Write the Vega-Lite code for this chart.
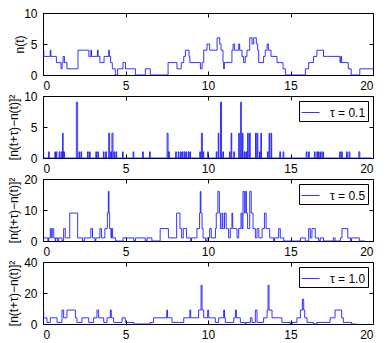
{
  "$schema": "https://vega.github.io/schema/vega-lite/v6.json",
  "padding": {"left": 7, "top": 6, "right": 0, "bottom": 0},
  "config": {
    "font": "Liberation Sans",
    "view": {"stroke": "black", "strokeWidth": 1},
    "axis": {"grid": false, "domain": false, "tickColor": "black", "tickSize": -4, "labelFontSize": 12, "labelColor": "black", "titleFontSize": 12, "titleFontWeight": "normal", "titleColor": "black", "labelPadding": 9},
    "axisY": {"labelPadding": 10},
    "legend": {"strokeColor": "black", "fillColor": "white", "padding": 2, "symbolType": "stroke", "symbolSize": 324, "symbolStrokeWidth": 0.8, "labelFontSize": 12, "labelColor": "black", "orient": "top-right", "offset": 5, "cornerRadius": 0, "labelOffset": 10}
  },
  "datasets": {
    "n": [{"t":0,"v":4},{"t":0.05,"v":3},{"t":0.44,"v":4},{"t":0.48,"v":3},{"t":0.81,"v":2},{"t":1.09,"v":1},{"t":1.16,"v":2},{"t":1.22,"v":3},{"t":1.3,"v":2},{"t":1.45,"v":1},{"t":2.12,"v":4},{"t":2.78,"v":3},{"t":2.9,"v":4},{"t":2.94,"v":3},{"t":3.3,"v":4},{"t":3.34,"v":3},{"t":3.45,"v":2},{"t":3.7,"v":3},{"t":3.98,"v":4},{"t":4.02,"v":3},{"t":4.1,"v":2},{"t":4.2,"v":1},{"t":4.38,"v":0},{"t":4.52,"v":1},{"t":4.85,"v":2},{"t":5.0,"v":1},{"t":5.6,"v":0},{"t":6.2,"v":1},{"t":6.5,"v":0},{"t":7.58,"v":2},{"t":8.12,"v":1},{"t":8.38,"v":2},{"t":8.53,"v":3},{"t":8.63,"v":4},{"t":8.85,"v":3},{"t":8.9,"v":2},{"t":9.54,"v":1},{"t":9.64,"v":2},{"t":9.74,"v":4},{"t":9.94,"v":5},{"t":10.1,"v":4},{"t":10.55,"v":6},{"t":10.71,"v":5},{"t":10.79,"v":4},{"t":10.91,"v":2},{"t":10.95,"v":1},{"t":10.99,"v":2},{"t":11.45,"v":4},{"t":11.52,"v":5},{"t":11.6,"v":4},{"t":11.86,"v":5},{"t":11.92,"v":4},{"t":12.06,"v":3},{"t":12.16,"v":2},{"t":12.26,"v":3},{"t":12.36,"v":4},{"t":12.53,"v":6},{"t":12.67,"v":5},{"t":12.77,"v":6},{"t":12.93,"v":5},{"t":13.01,"v":4},{"t":13.07,"v":2},{"t":13.37,"v":3},{"t":13.47,"v":4},{"t":13.58,"v":5},{"t":13.66,"v":4},{"t":13.82,"v":3},{"t":14.18,"v":2},{"t":14.55,"v":1},{"t":14.69,"v":0},{"t":15.9,"v":1},{"t":16.1,"v":2},{"t":16.4,"v":3},{"t":16.6,"v":4},{"t":17.0,"v":3},{"t":18.0,"v":2},{"t":18.05,"v":3},{"t":18.1,"v":2},{"t":18.5,"v":1},{"t":18.68,"v":0},{"t":19.2,"v":1},{"t":20,"v":1}],
    "d1": [{"t":0,"v":1},{"t":0.04,"v":0},{"t":0.34,"v":1},{"t":0.38,"v":0},{"t":0.72,"v":1},{"t":0.76,"v":0},{"t":0.8,"v":1},{"t":0.84,"v":0},{"t":0.98,"v":1},{"t":1.02,"v":0},{"t":1.1,"v":1},{"t":1.14,"v":0},{"t":1.19,"v":4},{"t":1.22,"v":0},{"t":1.26,"v":1},{"t":1.3,"v":0},{"t":2.02,"v":9},{"t":2.1,"v":0},{"t":2.18,"v":1},{"t":2.22,"v":0},{"t":2.3,"v":1},{"t":2.34,"v":0},{"t":2.7,"v":1},{"t":2.74,"v":0},{"t":2.82,"v":1},{"t":2.86,"v":0},{"t":3.2,"v":1},{"t":3.24,"v":0},{"t":3.32,"v":1},{"t":3.36,"v":0},{"t":3.66,"v":1},{"t":3.7,"v":0},{"t":3.8,"v":1},{"t":3.84,"v":0},{"t":3.98,"v":4},{"t":4.04,"v":0},{"t":4.1,"v":1},{"t":4.14,"v":0},{"t":4.18,"v":4},{"t":4.24,"v":0},{"t":4.3,"v":1},{"t":4.34,"v":0},{"t":4.42,"v":1},{"t":4.46,"v":0},{"t":4.82,"v":1},{"t":4.86,"v":0},{"t":5.46,"v":1},{"t":5.5,"v":0},{"t":6.04,"v":1},{"t":6.08,"v":0},{"t":6.46,"v":1},{"t":6.5,"v":0},{"t":7.52,"v":4},{"t":7.58,"v":0},{"t":7.62,"v":1},{"t":7.66,"v":0},{"t":8.04,"v":1},{"t":8.08,"v":0},{"t":8.2,"v":1},{"t":8.24,"v":0},{"t":8.34,"v":1},{"t":8.38,"v":0},{"t":8.44,"v":1},{"t":8.48,"v":0},{"t":8.56,"v":1},{"t":8.6,"v":0},{"t":8.66,"v":1},{"t":8.7,"v":0},{"t":8.8,"v":1},{"t":8.84,"v":0},{"t":8.9,"v":1},{"t":8.94,"v":0},{"t":9.5,"v":1},{"t":9.54,"v":0},{"t":9.6,"v":4},{"t":9.66,"v":0},{"t":9.7,"v":1},{"t":9.74,"v":0},{"t":9.98,"v":1},{"t":10.02,"v":0},{"t":10.5,"v":1},{"t":10.54,"v":0},{"t":10.62,"v":4},{"t":10.66,"v":0},{"t":10.76,"v":9},{"t":10.82,"v":0},{"t":10.9,"v":1},{"t":10.94,"v":0},{"t":11.3,"v":1},{"t":11.34,"v":0},{"t":11.4,"v":4},{"t":11.44,"v":0},{"t":11.56,"v":1},{"t":11.6,"v":0},{"t":11.86,"v":4},{"t":11.9,"v":0},{"t":11.98,"v":9},{"t":12.02,"v":0},{"t":12.08,"v":4},{"t":12.12,"v":0},{"t":12.2,"v":1},{"t":12.24,"v":0},{"t":12.3,"v":1},{"t":12.34,"v":0},{"t":12.4,"v":4},{"t":12.44,"v":0},{"t":12.52,"v":4},{"t":12.56,"v":0},{"t":12.88,"v":4},{"t":12.92,"v":0},{"t":12.98,"v":4},{"t":13.02,"v":0},{"t":13.12,"v":1},{"t":13.16,"v":0},{"t":13.2,"v":4},{"t":13.24,"v":0},{"t":13.6,"v":1},{"t":13.64,"v":0},{"t":13.7,"v":4},{"t":13.74,"v":0},{"t":13.82,"v":4},{"t":13.86,"v":0},{"t":14.35,"v":1},{"t":14.39,"v":0},{"t":14.55,"v":1},{"t":14.59,"v":0},{"t":15.95,"v":1},{"t":16.0,"v":0},{"t":16.1,"v":1},{"t":16.14,"v":0},{"t":16.45,"v":1},{"t":16.49,"v":0},{"t":16.6,"v":1},{"t":16.64,"v":0},{"t":16.7,"v":1},{"t":16.74,"v":0},{"t":16.82,"v":1},{"t":16.86,"v":0},{"t":16.95,"v":1},{"t":17.0,"v":0},{"t":17.98,"v":1},{"t":18.02,"v":0},{"t":18.1,"v":1},{"t":18.14,"v":0},{"t":18.4,"v":1},{"t":18.44,"v":0},{"t":18.55,"v":1},{"t":18.6,"v":0},{"t":19.14,"v":1},{"t":19.2,"v":0},{"t":19.9,"v":0}],
    "d5": [{"t":0,"v":1},{"t":0.3,"v":0},{"t":0.34,"v":1},{"t":0.44,"v":4},{"t":0.5,"v":1},{"t":0.56,"v":4},{"t":0.65,"v":1},{"t":0.74,"v":0},{"t":0.78,"v":1},{"t":0.9,"v":0},{"t":0.95,"v":1},{"t":1.15,"v":0},{"t":1.25,"v":4},{"t":1.35,"v":1},{"t":1.62,"v":9},{"t":2.1,"v":1},{"t":2.4,"v":0},{"t":2.5,"v":1},{"t":2.9,"v":4},{"t":3.0,"v":1},{"t":3.15,"v":0},{"t":3.2,"v":1},{"t":3.45,"v":4},{"t":3.55,"v":1},{"t":3.75,"v":4},{"t":3.9,"v":9},{"t":3.96,"v":16},{"t":4.0,"v":9},{"t":4.04,"v":4},{"t":4.12,"v":1},{"t":4.16,"v":4},{"t":4.22,"v":1},{"t":4.4,"v":0},{"t":4.85,"v":1},{"t":5.5,"v":0},{"t":5.6,"v":1},{"t":6.2,"v":0},{"t":6.3,"v":1},{"t":6.6,"v":0},{"t":7.1,"v":4},{"t":7.6,"v":1},{"t":8.1,"v":9},{"t":8.3,"v":4},{"t":8.4,"v":1},{"t":8.5,"v":4},{"t":8.7,"v":1},{"t":8.95,"v":0},{"t":9.0,"v":1},{"t":9.33,"v":4},{"t":9.49,"v":9},{"t":9.53,"v":16},{"t":9.57,"v":9},{"t":9.64,"v":4},{"t":9.7,"v":1},{"t":9.85,"v":0},{"t":9.94,"v":1},{"t":10.1,"v":4},{"t":10.2,"v":1},{"t":10.45,"v":4},{"t":10.5,"v":9},{"t":10.6,"v":16},{"t":10.69,"v":9},{"t":10.75,"v":4},{"t":10.85,"v":9},{"t":10.9,"v":4},{"t":11.0,"v":9},{"t":11.1,"v":4},{"t":11.25,"v":1},{"t":11.35,"v":4},{"t":11.45,"v":9},{"t":11.5,"v":4},{"t":11.76,"v":1},{"t":11.86,"v":4},{"t":12.0,"v":9},{"t":12.06,"v":4},{"t":12.12,"v":16},{"t":12.2,"v":9},{"t":12.26,"v":16},{"t":12.33,"v":9},{"t":12.4,"v":4},{"t":12.53,"v":16},{"t":12.62,"v":9},{"t":12.73,"v":4},{"t":12.87,"v":1},{"t":12.97,"v":4},{"t":13.08,"v":1},{"t":13.28,"v":4},{"t":13.42,"v":9},{"t":13.52,"v":4},{"t":13.74,"v":1},{"t":13.98,"v":0},{"t":14.03,"v":1},{"t":14.28,"v":4},{"t":14.38,"v":1},{"t":14.59,"v":0},{"t":15.6,"v":1},{"t":15.9,"v":0},{"t":16.1,"v":4},{"t":16.2,"v":1},{"t":16.3,"v":4},{"t":16.5,"v":1},{"t":16.7,"v":0},{"t":16.8,"v":1},{"t":17.0,"v":0},{"t":17.6,"v":1},{"t":17.7,"v":0},{"t":18.02,"v":1},{"t":18.12,"v":4},{"t":18.47,"v":1},{"t":18.63,"v":0},{"t":18.7,"v":1},{"t":19.17,"v":0},{"t":19.5,"v":0}],
    "d10": [{"t":0,"v":9},{"t":0.04,"v":4},{"t":0.24,"v":1},{"t":0.44,"v":4},{"t":0.85,"v":1},{"t":1.15,"v":9},{"t":1.25,"v":4},{"t":1.45,"v":9},{"t":1.96,"v":4},{"t":2.06,"v":1},{"t":2.36,"v":4},{"t":2.77,"v":1},{"t":3.07,"v":4},{"t":3.27,"v":9},{"t":3.37,"v":4},{"t":3.68,"v":1},{"t":3.88,"v":4},{"t":4.08,"v":9},{"t":4.14,"v":4},{"t":4.28,"v":1},{"t":4.79,"v":4},{"t":4.99,"v":1},{"t":5.5,"v":0},{"t":6.5,"v":1},{"t":6.7,"v":4},{"t":7.5,"v":9},{"t":7.55,"v":4},{"t":7.82,"v":1},{"t":8.53,"v":4},{"t":8.9,"v":9},{"t":8.95,"v":4},{"t":9.43,"v":9},{"t":9.58,"v":25},{"t":9.64,"v":9},{"t":9.74,"v":4},{"t":9.98,"v":9},{"t":10.04,"v":4},{"t":10.44,"v":1},{"t":10.65,"v":4},{"t":10.95,"v":9},{"t":11.0,"v":4},{"t":11.05,"v":1},{"t":11.56,"v":4},{"t":11.66,"v":9},{"t":11.72,"v":4},{"t":11.96,"v":1},{"t":12.25,"v":0},{"t":12.3,"v":1},{"t":12.57,"v":4},{"t":12.67,"v":1},{"t":12.87,"v":9},{"t":12.97,"v":1},{"t":13.37,"v":4},{"t":13.58,"v":9},{"t":13.64,"v":25},{"t":13.7,"v":9},{"t":13.88,"v":4},{"t":14.48,"v":1},{"t":14.99,"v":0},{"t":15.09,"v":1},{"t":15.39,"v":4},{"t":15.6,"v":9},{"t":15.72,"v":16},{"t":15.8,"v":9},{"t":15.86,"v":4},{"t":16.0,"v":1},{"t":16.4,"v":0},{"t":16.6,"v":1},{"t":17.4,"v":4},{"t":17.7,"v":9},{"t":18.1,"v":4},{"t":18.2,"v":1},{"t":18.7,"v":0},{"t":19.0,"v":0}]
  },
  "bounds": "flush",
  "spacing": 21,
  "resolve": {"scale": {"color": "independent", "y": "independent"}, "legend": {"color": "independent"}},
  "vconcat": [
    {
      "width": 330, "height": 62,
      "data": {"name": "n"},
      "layer": [
        {"mark": {"type": "line", "interpolate": "step-after", "strokeWidth": 0.8, "color": "#0000ff"},
         "encoding": {
           "x": {"field": "t", "type": "quantitative", "scale": {"domain": [0, 20], "nice": false}, "axis": {"values": [0, 5, 10, 15, 20], "title": null}},
           "y": {"field": "v", "type": "quantitative", "scale": {"domain": [0, 10], "nice": false}, "axis": {"values": [0, 5, 10], "title": "n(t)", "titlePadding": -3}}
         }},
        {"mark": {"type": "line", "interpolate": "step-after", "opacity": 0},
         "encoding": {
           "x": {"field": "t", "type": "quantitative", "scale": {"domain": [0, 20], "nice": false}, "axis": {"values": [0, 5, 10, 15, 20], "title": null, "orient": "top", "labels": false}},
           "y": {"field": "v", "type": "quantitative", "scale": {"domain": [0, 10], "nice": false}, "axis": {"values": [0, 5, 10], "title": null, "orient": "right", "labels": false}}
         }}
      ],
      "resolve": {"axis": {"x": "independent", "y": "independent"}}
    },
    {
      "width": 330, "height": 62,
      "data": {"name": "d1"},
      "layer": [
        {"mark": {"type": "line", "interpolate": "step-after", "strokeWidth": 0.8},
         "encoding": {
           "x": {"field": "t", "type": "quantitative", "scale": {"domain": [0, 20], "nice": false}, "axis": {"values": [0, 5, 10, 15, 20], "title": null}},
           "y": {"field": "v", "type": "quantitative", "scale": {"domain": [0, 10], "nice": false}, "axis": {"values": [0, 5, 10], "title": "[n(t+τ)−n(t)]²", "titlePadding": 3}},
           "color": {"datum": "τ = 0.1", "type": "nominal", "scale": {"range": ["#0000ff"]}, "legend": {"title": null}}
         }},
        {"mark": {"type": "line", "interpolate": "step-after", "opacity": 0},
         "encoding": {
           "x": {"field": "t", "type": "quantitative", "scale": {"domain": [0, 20], "nice": false}, "axis": {"values": [0, 5, 10, 15, 20], "title": null, "orient": "top", "labels": false}},
           "y": {"field": "v", "type": "quantitative", "scale": {"domain": [0, 10], "nice": false}, "axis": {"values": [0, 5, 10], "title": null, "orient": "right", "labels": false}}
         }}
      ],
      "resolve": {"axis": {"x": "independent", "y": "independent"}}
    },
    {
      "width": 330, "height": 62,
      "data": {"name": "d5"},
      "layer": [
        {"mark": {"type": "line", "interpolate": "step-after", "strokeWidth": 0.8},
         "encoding": {
           "x": {"field": "t", "type": "quantitative", "scale": {"domain": [0, 20], "nice": false}, "axis": {"values": [0, 5, 10, 15, 20], "title": null}},
           "y": {"field": "v", "type": "quantitative", "scale": {"domain": [0, 20], "nice": false}, "axis": {"values": [0, 10, 20], "title": "[n(t+τ)−n(t)]²", "titlePadding": 3}},
           "color": {"datum": "τ = 0.5", "type": "nominal", "scale": {"range": ["#0000ff"]}, "legend": {"title": null}}
         }},
        {"mark": {"type": "line", "interpolate": "step-after", "opacity": 0},
         "encoding": {
           "x": {"field": "t", "type": "quantitative", "scale": {"domain": [0, 20], "nice": false}, "axis": {"values": [0, 5, 10, 15, 20], "title": null, "orient": "top", "labels": false}},
           "y": {"field": "v", "type": "quantitative", "scale": {"domain": [0, 20], "nice": false}, "axis": {"values": [0, 10, 20], "title": null, "orient": "right", "labels": false}}
         }}
      ],
      "resolve": {"axis": {"x": "independent", "y": "independent"}}
    },
    {
      "width": 330, "height": 62,
      "data": {"name": "d10"},
      "layer": [
        {"mark": {"type": "line", "interpolate": "step-after", "strokeWidth": 0.8},
         "encoding": {
           "x": {"field": "t", "type": "quantitative", "scale": {"domain": [0, 20], "nice": false}, "axis": {"values": [0, 5, 10, 15, 20], "title": null}},
           "y": {"field": "v", "type": "quantitative", "scale": {"domain": [0, 40], "nice": false}, "axis": {"values": [0, 20, 40], "title": "[n(t+τ)−n(t)]²", "titlePadding": 3}},
           "color": {"datum": "τ = 1.0", "type": "nominal", "scale": {"range": ["#0000ff"]}, "legend": {"title": null}}
         }},
        {"mark": {"type": "line", "interpolate": "step-after", "opacity": 0},
         "encoding": {
           "x": {"field": "t", "type": "quantitative", "scale": {"domain": [0, 20], "nice": false}, "axis": {"values": [0, 5, 10, 15, 20], "title": null, "orient": "top", "labels": false}},
           "y": {"field": "v", "type": "quantitative", "scale": {"domain": [0, 40], "nice": false}, "axis": {"values": [0, 20, 40], "title": null, "orient": "right", "labels": false}}
         }}
      ],
      "resolve": {"axis": {"x": "independent", "y": "independent"}}
    }
  ]
}
